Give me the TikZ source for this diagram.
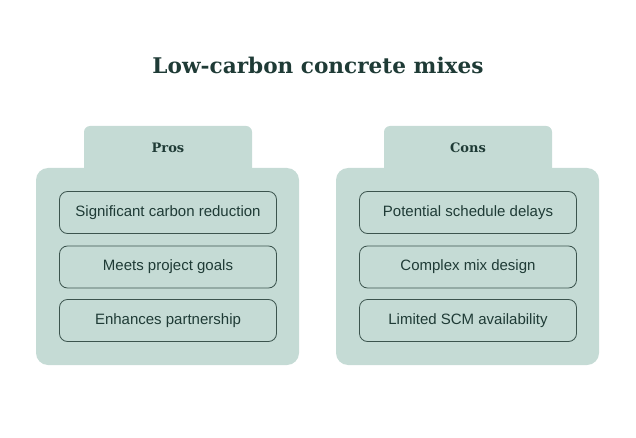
\documentclass[tikz,border=0pt]{standalone}
\usepackage{fontspec}
\setmainfont{Liberation Sans}
\newfontfamily\slabfont{DejaVu Serif}
\definecolor{sage}{RGB}{197,219,213}
\definecolor{inkdark}{RGB}{31,59,54}
\definecolor{itemline}{RGB}{60,84,78}
\begin{document}
\begin{tikzpicture}[x=1pt,y=-1pt,
  panel/.style={fill=sage,draw=none,rounded corners=12pt},
  tabbox/.style={fill=sage,draw=none,rounded corners=6pt},
  itembox/.style={draw=itemline,line width=0.8pt,rounded corners=8pt,minimum width=217pt,minimum height=42pt,inner sep=0pt,font=\fontsize{15}{17}\selectfont,text=inkdark},
  heading/.style={font=\slabfont\bfseries\fontsize{13}{15}\selectfont,text=inkdark},
  titlestyle/.style={font=\slabfont\bfseries\fontsize{21.6}{26}\selectfont,text=inkdark}]
\useasboundingbox (0,0) rectangle (636,438);
\node[titlestyle] (title) at (318,65) {Low-carbon concrete mixes};
% Pros
\path[tabbox] (84,126) rectangle (252,190);
\path[panel] (36,168) rectangle (299,365);
\node[heading] (pros) at (168,148) {Pros};
\node[itembox] (p1) at (168,212.5) {Significant carbon reduction};
\node[itembox] (p2) at (168,267) {Meets project goals};
\node[itembox] (p3) at (168,320.5) {Enhances partnership};
% Cons
\path[tabbox] (384,126) rectangle (552,190);
\path[panel] (336,168) rectangle (599,365);
\node[heading] (cons) at (468,148) {Cons};
\node[itembox] (c1) at (468,212.5) {Potential schedule delays};
\node[itembox] (c2) at (468,267) {Complex mix design};
\node[itembox] (c3) at (468,320.5) {Limited SCM availability};
\end{tikzpicture}
\end{document}
